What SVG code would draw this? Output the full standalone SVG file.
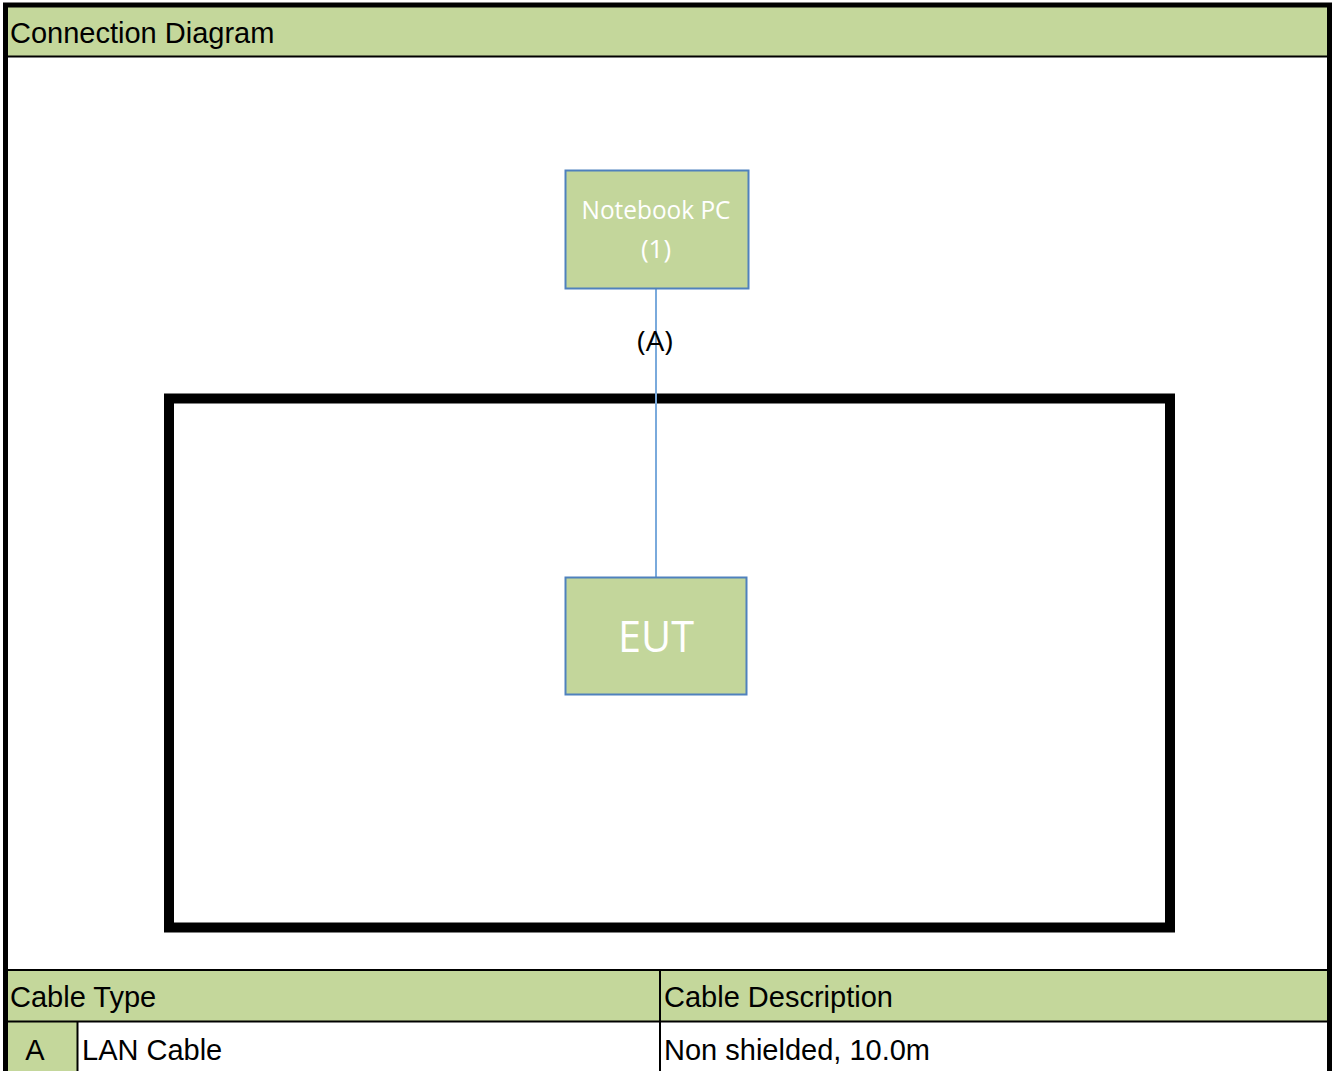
<svg xmlns="http://www.w3.org/2000/svg" width="1335" height="1071" viewBox="0 0 1335 1071">
<style>
.t{font-family:"Liberation Sans",Arial,sans-serif;font-size:29px;fill:#000}
.n{font-family:"Open Sans","Noto Sans",sans-serif;fill:#fff;text-anchor:middle}
.box{fill:#c3d69b;stroke:#4f81bd;stroke-width:2}
.g{fill:#c4d79b}
.ln{stroke:#000;stroke-width:2;fill:none}
</style>
<rect width="1335" height="1071" fill="#fff"/>
<g id="header">
<rect class="g" x="6" y="6" width="1323" height="50"/>
<line class="ln" x1="6" y1="56.5" x2="1329" y2="56.5"/>
<text class="t" x="10" y="43">Connection Diagram</text>
</g>
<g id="enclosure">
<rect x="169" y="398.5" width="1001" height="529" fill="none" stroke="#000" stroke-width="10"/>
</g>
<g id="connectors">
<line x1="656" y1="289" x2="656" y2="577" stroke="#7aaadc" stroke-width="2"/>
<text x="655" y="351" font-family="'Open Sans','Noto Sans',sans-serif" font-size="27" fill="#000" text-anchor="middle" textLength="36" lengthAdjust="spacingAndGlyphs">(A)</text>
</g>
<g id="notebook">
<rect class="box" x="565.5" y="170.5" width="183" height="118"/>
<text class="n" x="656" y="219" font-size="25" textLength="149" lengthAdjust="spacingAndGlyphs">Notebook PC</text>
<text class="n" x="656" y="258" font-size="26">(1)</text>
</g>
<g id="eut">
<rect class="box" x="565.5" y="577.5" width="181" height="117"/>
<text class="n" x="656" y="652" font-size="43" textLength="76" lengthAdjust="spacingAndGlyphs">EUT</text>
</g>
<g id="table">
<rect class="g" x="6" y="971" width="1323" height="50"/>
<rect class="g" x="6" y="1022" width="71" height="49"/>
<line class="ln" x1="6" y1="970" x2="1329" y2="970"/>
<line class="ln" x1="6" y1="1021.5" x2="1329" y2="1021.5"/>
<line class="ln" x1="660" y1="970" x2="660" y2="1071"/>
<line class="ln" x1="77.5" y1="1021.5" x2="77.5" y2="1071"/>
<text class="t" x="10" y="1007">Cable Type</text>
<text class="t" x="664" y="1007">Cable Description</text>
<text class="t" x="35" y="1060" text-anchor="middle">A</text>
<text class="t" x="82" y="1060">LAN Cable</text>
<text class="t" x="664" y="1060">Non shielded, 10.0m</text>
</g>
<rect x="5.5" y="5" width="1324" height="1075" fill="none" stroke="#000" stroke-width="5"/>
</svg>
